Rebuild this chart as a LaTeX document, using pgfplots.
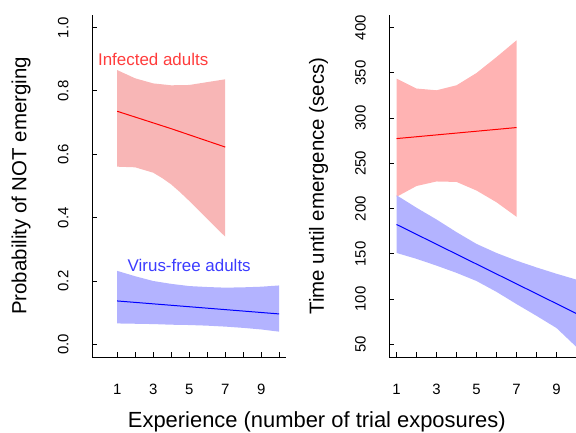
\documentclass[border=0pt]{standalone}
\usepackage{fontspec}
\setmainfont{Liberation Sans}
\usepackage{pgfplots}
\pgfplotsset{compat=1.18}
\definecolor{redbandL}{RGB}{248,182,182}
\definecolor{redbandR}{RGB}{255,179,179}
\definecolor{blueband}{RGB}{179,179,255}
\definecolor{redtext}{RGB}{255,60,60}
\definecolor{bluetext}{RGB}{60,60,255}
\pgfplotsset{
  myaxis/.style={
    scale only axis, width=194.4bp, height=342bp,
    axis x line*=bottom, axis y line*=left,
    axis line style={-, line width=1bp, black},
    tick align=inside, major tick length=5bp,
    tick style={black, line width=1bp},
    xtick={1,...,10}, xticklabels={1,,3,,5,,7,,9,},
    /pgf/number format/assume math mode=true,
    ticklabel style={font=\fontsize{15}{18}\selectfont},
    xticklabel style={anchor=base},
    xticklabel shift=37bp,
    yticklabel style={rotate=90, anchor=base},
    yticklabel shift=23.7bp,
    every axis y label/.style={at={(axis description cs:-0.337,0.5)}, rotate=90, anchor=base, font=\fontsize{20.5}{24}\selectfont},
  }
}
\begin{document}
\begin{tikzpicture}[x=1bp,y=1bp]
\begin{axis}[myaxis, at={(92bp,75bp)}, anchor=south west,
  xmin=-0.4, xmax=10.4, ymin=-0.04, ymax=1.04,
  ytick={0,0.2,0.4,0.6,0.8,1}, yticklabels={0.0,0.2,0.4,0.6,0.8,1.0},
  ylabel={Probability of NOT emerging}]
% infected band
\addplot[fill=redbandL, draw=none] coordinates {
 (1,0.866) (2,0.840) (3,0.824) (4,0.818) (5,0.819) (6,0.828) (7,0.837)
 (7,0.340) (6.5,0.368) (6,0.396) (5.5,0.425) (5,0.453) (4.5,0.480) (4,0.505) (3.5,0.525) (3,0.542) (2,0.559) (1,0.561)} -- cycle;
\addplot[red, line width=1bp] coordinates {(1,0.736) (4,0.681) (7,0.623)};
% virus-free band
\addplot[fill=blueband, draw=none] coordinates {
 (1,0.232) (2,0.215) (3,0.200) (4,0.191) (5,0.184) (6,0.181) (7,0.179) (8,0.180) (9,0.182) (10,0.186)
 (10,0.040) (9,0.047) (8,0.052) (7,0.056) (6,0.059) (5,0.061) (4,0.062) (3,0.064) (2,0.065) (1,0.066)} -- cycle;
\addplot[blue, line width=1bp] coordinates {(1,0.137) (10,0.096)};
\node[text=redtext, font=\fontsize{17}{20}\selectfont] at (axis cs:3,0.9) {Infected adults};
\node[text=bluetext, font=\fontsize{17}{20}\selectfont] at (axis cs:5,0.25) {Virus-free adults};
\end{axis}
\begin{axis}[myaxis, at={(389.3bp,75bp)}, anchor=south west,
  xmin=0.64, xmax=10.36, ymin=36, ymax=414,
  ytick={50,100,...,400},
  ylabel={Time until emergence (secs)}]
\addplot[fill=redbandR, draw=none] coordinates {
 (1,343.7) (2,332.7) (3,330.8) (4,336.3) (5,349.9) (6,367.5) (7,386)
 (7,191) (6,207) (5,220) (4,229.5) (3,230) (2,225) (1,213)} -- cycle;
\addplot[red, line width=1bp] coordinates {(1,277.4) (7,289.6)};
\addplot[fill=blueband, draw=none] coordinates {
 (1,214.8) (2,201) (3,188) (4,174) (5,161) (6,151) (7,142.5) (8,135) (9,128) (10,121.5)
 (10,47) (9,68) (8,81.5) (7,94.5) (6,108) (5,120) (4,129) (3,137) (2,144.5) (1,151)} -- cycle;
\addplot[blue, line width=1bp] coordinates {(1,182.5) (10,84)};
\end{axis}
\node[anchor=base, font=\fontsize{22}{26}\selectfont] at (316.8,4.5) {Experience (number of trial exposures)};
\pgfresetboundingbox
\useasboundingbox (0,0) rectangle (576,432);
\end{tikzpicture}
\end{document}
